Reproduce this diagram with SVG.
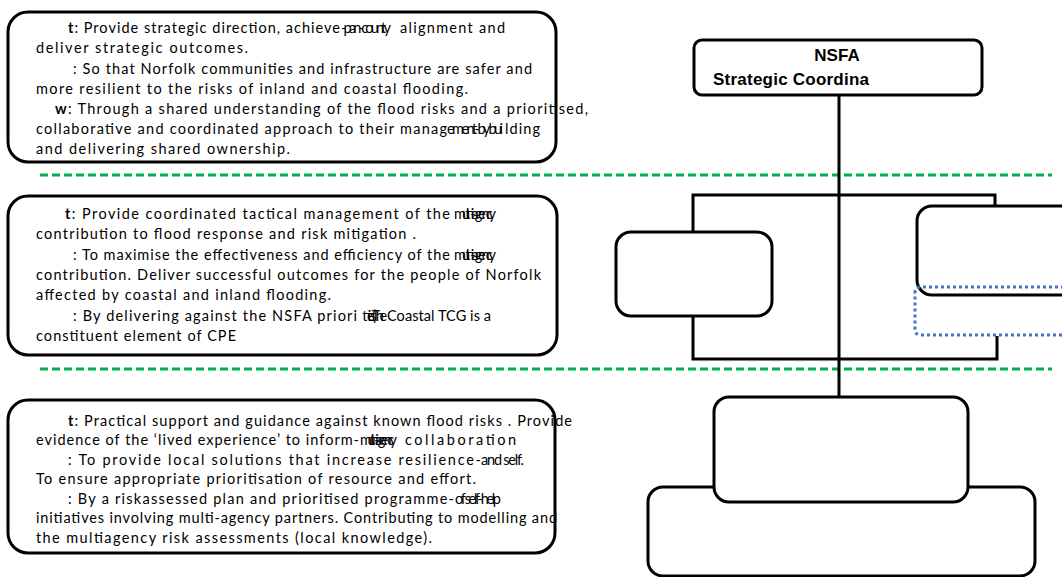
<svg xmlns="http://www.w3.org/2000/svg" width="1062" height="577" viewBox="0 0 1062 577">
<style>
.box{fill:#fff;stroke:#000;stroke-width:3}
.t{font-family:Lato,"Liberation Sans",sans-serif;font-size:14.5px;fill:#000}
.b{font-weight:bold}
.h{font-family:"Liberation Sans",Arial,sans-serif;font-size:17px;font-weight:bold;fill:#000}
.conn{fill:none;stroke:#000;stroke-width:3}
.sep{fill:none;stroke:#00B050;stroke-width:3;stroke-dasharray:8 4}
.dot{fill:none;stroke:#4472C4;stroke-width:3;stroke-dasharray:3 3}
</style>
<rect width="1062" height="577" fill="#fff"/>

<g id="separators">
<line class="sep" x1="40" y1="175" x2="1052" y2="175"/>
<line class="sep" x1="40" y1="369" x2="1052" y2="369"/>
</g>

<g id="box-strategic">
<rect class="box" x="8" y="12" width="548" height="150" rx="20"/>
<text class="t" y="33"><tspan x="68" textLength="272" lengthAdjust="spacing"><tspan class="b">t</tspan>: Provide strategic direction, achieve</tspan><tspan x="341" textLength="50" lengthAdjust="spacing">-pan-county</tspan><tspan x="400" textLength="105" lengthAdjust="spacing">alignment and</tspan></text>
<text class="t" x="36" y="53" textLength="212" lengthAdjust="spacing">deliver strategic outcomes.</text>
<text class="t" x="73" y="73.5" textLength="459" lengthAdjust="spacing">: So that Norfolk communities and infrastructure are safer and</text>
<text class="t" x="36" y="94" textLength="432" lengthAdjust="spacing">more resilient to the risks of inland and coastal flooding.</text>
<text class="t" x="55" y="114" textLength="533" lengthAdjust="spacing"><tspan class="b">w</tspan>: Through a shared understanding of the flood risks and a prioritised,</text>
<text class="t" y="134"><tspan x="36" textLength="411" lengthAdjust="spacing">collaborative and coordinated approach to their manag</tspan><tspan x="447" textLength="56" lengthAdjust="spacing">ement-by bui</tspan><tspan x="505" textLength="35" lengthAdjust="spacing">lding</tspan></text>
<text class="t" x="36" y="154" textLength="254" lengthAdjust="spacing">and delivering shared ownership.</text>
</g>

<g id="box-tactical">
<rect class="box" x="8" y="196" width="549" height="159" rx="20"/>
<text class="t" y="219"><tspan x="65" textLength="385" lengthAdjust="spacing"><tspan class="b">t</tspan>: Provide coordinated tactical management of the</tspan><tspan x="454" textLength="42" lengthAdjust="spacing">multi-agency</tspan></text>
<text class="t" x="36" y="239" textLength="380" lengthAdjust="spacing">contribution to flood response and risk mitigation .</text>
<text class="t" y="260"><tspan x="73" textLength="377" lengthAdjust="spacing">: To maximise the effectiveness and efficiency of the</tspan><tspan x="454" textLength="42" lengthAdjust="spacing">multi-agency</tspan></text>
<text class="t" x="36" y="280" textLength="505" lengthAdjust="spacing">contribution. Deliver successful outcomes for the people of Norfolk</text>
<text class="t" x="36" y="300" textLength="295" lengthAdjust="spacing">affected by coastal and inland flooding.</text>
<text class="t" y="321"><tspan x="73" textLength="284" lengthAdjust="spacing">: By delivering against the NSFA priori</tspan><tspan x="358" textLength="25" lengthAdjust="spacing">ties (The</tspan><tspan x="387" textLength="104" lengthAdjust="spacing">Coastal TCG is a</tspan></text>
<text class="t" x="36" y="341" textLength="200" lengthAdjust="spacing">constituent element of CPE</text>
</g>

<g id="box-operational">
<rect class="box" x="8" y="400" width="547" height="153" rx="20"/>
<text class="t" x="68" y="426" textLength="504" lengthAdjust="spacing"><tspan class="b">t</tspan>: Practical support and guidance against known flood risks . Provide</text>
<text class="t" y="445"><tspan x="36" textLength="323" lengthAdjust="spacing">evidence of the ‘lived experience’ to inform-</tspan><tspan x="360" textLength="37" lengthAdjust="spacing">multi-agency</tspan><tspan x="405" textLength="111" lengthAdjust="spacing">collaboration</tspan></text>
<text class="t" y="465"><tspan x="68" textLength="413" lengthAdjust="spacing">: To provide local solutions that increase resilience-</tspan><tspan x="481" textLength="43" lengthAdjust="spacing">and self.</tspan></text>
<text class="t" x="36" y="484" textLength="440" lengthAdjust="spacing">To ensure appropriate prioritisation of resource and effort.</text>
<text class="t" y="504"><tspan x="68" textLength="386" lengthAdjust="spacing">: By a riskassessed plan and prioritised programme-</tspan><tspan x="455" textLength="46" lengthAdjust="spacing">of self-help</tspan></text>
<text class="t" x="36" y="523" textLength="521" lengthAdjust="spacing">initiatives involving multi-agency partners. Contributing to modelling and</text>
<text class="t" x="36" y="543" textLength="396" lengthAdjust="spacing">the multiagency risk assessments (local knowledge).</text>
</g>

<g id="connectors">
<line class="conn" x1="839" y1="95" x2="839" y2="397"/>
<path class="conn" d="M693 232 V195 H995 V206"/>
<path class="conn" d="M693 316 V359 H997 V336"/>
</g>

<g id="node-nsfa">
<rect class="box" x="694" y="40" width="288" height="55" rx="8"/>
<text class="h" x="837" y="61" text-anchor="middle">NSFA</text>
<text class="h" x="713" y="85" textLength="156" lengthAdjust="spacing">Strategic Coordina</text>
</g>

<g id="node-left">
<rect class="box" x="616" y="232" width="156" height="84" rx="15"/>
</g>

<g id="node-right">
<rect class="box" x="917" y="206" width="170" height="89" rx="15"/>
<path class="dot" d="M1070 287 H921 Q915 287 915 293 V329 Q915 335 921 335 H1070"/>
</g>

<g id="node-bottom">
<rect class="box" x="648" y="487" width="387" height="89" rx="15"/>
</g>

<g id="node-mid">
<rect class="box" x="714" y="397" width="254" height="105" rx="15"/>
</g>
</svg>
